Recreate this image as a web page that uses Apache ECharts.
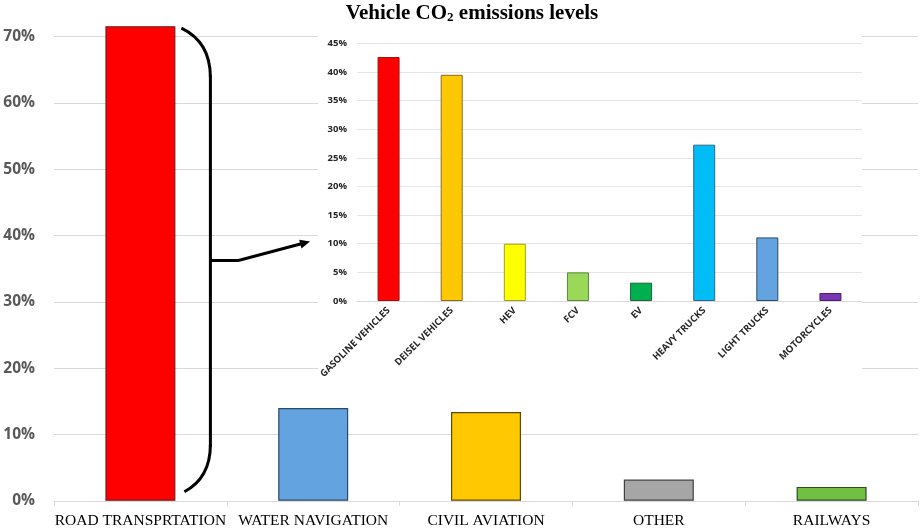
<!DOCTYPE html>
<html lang="en">
<head>
    <meta charset="UTF-8"/>
    <title>Transport CO2 emissions</title>
    <script src="https://cdn.jsdelivr.net/npm/echarts@6/dist/echarts.min.js"></script>
    <style>
        html, body { margin: 0; padding: 0; background: #fff; }
        #main { width: 923px; height: 531px; }
    </style>
</head>
<body>
<div id="main"></div>
<script type="text/javascript">
    // main chart: share of transport CO2 by sector (%)
    var sectors = ['ROAD TRANSPRTATION', 'WATER NAVIGATION', 'CIVIL AVIATION', 'OTHER', 'RAILWAYS']
    var sectorVals = [71.6, 14.0, 13.4, 3.2, 2.1]
    var sectorTicks = [0, 10, 20, 30, 40, 50, 60, 70]

    // inset: road vehicle CO2 levels (%)
    var vehicles = ['GASOLINE VEHICLES', 'DEISEL VEHICLES', 'HEV', 'FCV', 'EV', 'HEAVY TRUCKS', 'LIGHT TRUCKS', 'MOTORCYCLES']
    var vehicleVals = [42.6, 39.5, 10.0, 5.0, 3.2, 27.3, 11.1, 1.4]
    var vehicleTicks = [0, 5, 10, 15, 20, 25, 30, 35, 40, 45]

    var sectorColors = ['#ff0000', '#62a3e0', '#ffc800', '#a6a6a6', '#72c043']
    var sectorBorders = ['#7a1a1a', '#2f4a66', '#5a4a10', '#404040', '#2e4a20']
    var vehicleColors = ['#ff0000', '#ffc800', '#ffff00', '#9ad85a', '#00b050', '#00bcf7', '#62a3e0', '#7a35b0']
    var vehicleBorders = ['#a01010', '#8a6a20', '#a0a020', '#5a8a38', '#1a6a38', '#2a6a8a', '#2f4a66', '#45206a']

    var myChart = echarts.init(document.getElementById('main'))

    var option = {
        animation: false,
        backgroundColor: '#fff',
        grid: [
            {left: 54, right: 5, top: 3.6, bottom: 30.2},
            {left: 357, right: 61, top: 43.3, bottom: 230}
        ],
        xAxis: [
            {
                type: 'category', gridIndex: 0, data: sectors,
                axisLine: {lineStyle: {color: '#d9d9d9'}},
                axisTick: {show: true, length: 5, lineStyle: {color: '#d9d9d9'}},
                axisLabel: {
                    interval: 0, margin: 12, color: '#000',
                    fontFamily: 'Liberation Serif', fontSize: 15.5
                }
            },
            {
                type: 'category', gridIndex: 1, data: vehicles, z: 5,
                axisLine: {lineStyle: {color: '#d9d9d9'}},
                axisTick: {show: false},
                axisLabel: {
                    interval: 0, rotate: 45, margin: 8, color: '#262626',
                    fontFamily: 'Open Sans', fontSize: 9.5, fontWeight: 'bold'
                }
            }
        ],
        yAxis: [
            {
                type: 'value', gridIndex: 0, min: 0, max: 75, interval: 10,
                axisLine: {show: false}, axisTick: {show: false},
                splitLine: {showMaxLine: false, lineStyle: {color: '#d9d9d9'}},
                axisLabel: {
                    margin: 19, color: '#595959', fontFamily: 'Open Sans',
                    fontSize: 15.5, fontWeight: 'bold', showMaxLabel: false,
                    formatter: function (v) {
                        return sectorTicks.indexOf(v) >= 0 ? v + '%' : ''
                    }
                }
            },
            {
                type: 'value', gridIndex: 1, min: 0, max: 45, interval: 5, z: 5,
                axisLine: {show: false}, axisTick: {show: false},
                splitLine: {lineStyle: {color: '#e6e6e6'}},
                axisLabel: {
                    margin: 10, color: '#262626', fontFamily: 'Open Sans',
                    fontSize: 9.5, fontWeight: 'bold',
                    formatter: function (v) {
                        return vehicleTicks.indexOf(v) >= 0 ? v + '%' : ''
                    }
                }
            }
        ],
        series: [
            {
                type: 'bar', xAxisIndex: 0, yAxisIndex: 0, barWidth: 70, z: 2,
                data: sectorVals.map(function (v, i) {
                    return {value: v, itemStyle: {color: sectorColors[i], borderColor: sectorBorders[i], borderWidth: 1.2}}
                })
            },
            {
                type: 'bar', xAxisIndex: 1, yAxisIndex: 1, barWidth: 22, z: 6,
                data: vehicleVals.map(function (v, i) {
                    return {value: v, itemStyle: {color: vehicleColors[i], borderColor: vehicleBorders[i], borderWidth: 1}}
                })
            }
        ]
    }
    myChart.setOption(option)

    // bracket + arrow from the road bar to the inset, placed off the main axes
    function num(v, fallback) {
        if (v && v.length) v = v[0]
        return (typeof v === 'number' && isFinite(v)) ? v : fallback
    }
    var cx = num(myChart.convertToPixel({xAxisIndex: 0}, sectors[0]), 140.5)
    var yTop = num(myChart.convertToPixel({yAxisIndex: 0}, sectorVals[0]), 26.4)
    var yBase = num(myChart.convertToPixel({yAxisIndex: 0}, 0), 500.8)

    var bx = cx + 70
    var y1 = yTop + 2, y2 = yBase - 9
    var mid = (y1 + y2) / 2 + 0.5
    var tip = [310, mid - 19]
    var from = [bx + 28, mid]
    var dx = tip[0] - from[0], dy = tip[1] - from[1]
    var len = Math.sqrt(dx * dx + dy * dy)
    var ux = dx / len, uy = dy / len
    var hb = [tip[0] - 10 * ux, tip[1] - 10 * uy]

    function ink() {
        return {stroke: '#000', lineWidth: 3, fill: null}
    }

    myChart.setOption({
        graphic: [
            {type: 'rect', z: 3, shape: {x: 318, y: 0, width: 544, height: 398}, style: {fill: '#fff'}, silent: true},
            {type: 'bezierCurve', z: 10, shape: {x1: bx - 29, y1: y1, cpx1: bx, cpy1: y1 + 14, x2: bx, y2: y1 + 49}, style: ink()},
            {type: 'line', z: 10, shape: {x1: bx, y1: y1 + 47, x2: bx, y2: y2 - 45}, style: ink()},
            {type: 'bezierCurve', z: 10, shape: {x1: bx, y1: y2 - 47, cpx1: bx, cpy1: y2 - 14, x2: bx - 26, y2: y2}, style: ink()},
            {type: 'polyline', z: 10, shape: {points: [[bx, mid], from, [hb[0] + 2 * ux, hb[1] + 2 * uy]]}, style: ink()},
            {type: 'polygon', z: 10, shape: {points: [tip, [hb[0] - 4.5 * uy, hb[1] + 4.5 * ux], [hb[0] + 4.5 * uy, hb[1] - 4.5 * ux]]}, style: {fill: '#000'}},
            {
                type: 'text', z: 10, x: 472, y: 14,
                style: {
                    text: '{a|Vehicle CO}{s|2}{a| emissions levels}',
                    align: 'center', verticalAlign: 'middle',
                    rich: {
                        a: {fontFamily: 'Liberation Serif', fontSize: 21, fontWeight: 'bold', fill: '#000'},
                        s: {fontFamily: 'Liberation Serif', fontSize: 13, fontWeight: 'bold', fill: '#000', padding: [7, 0, 0, 0]}
                    }
                }
            }
        ]
    })
</script>
</body>
</html>
